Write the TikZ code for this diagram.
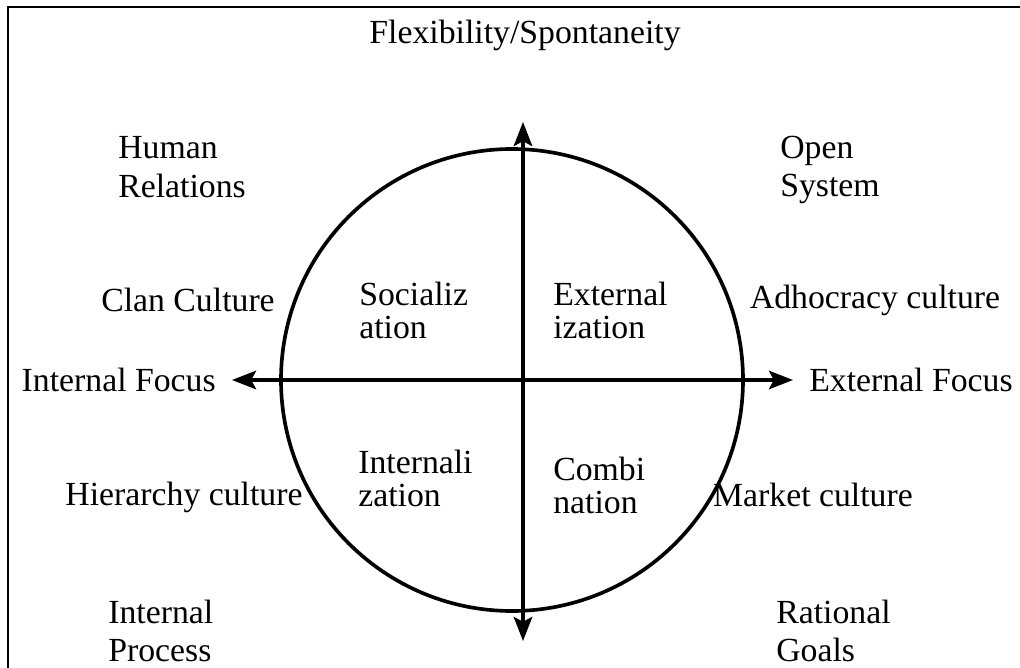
\documentclass[tikz,border=0pt]{standalone}
\usepackage{fontspec}
\setmainfont{Liberation Serif}
\usetikzlibrary{arrows.meta, calc, positioning}
\tikzstyle{label} = [inner sep=0pt, align=left, font=\fontsize{24}{27.5}\selectfont]
\tikzstyle{quad} = [inner sep=0pt, align=left, font=\fontsize{24}{23.5}\selectfont]
\tikzstyle{arrow} = [line width=2.6pt,->,>={Stealth[length=6mm, width=4.6mm, inset=1.2mm]}]

\begin{document}
\begin{tikzpicture}[x=0.025cm, y=-0.025cm]
	\useasboundingbox (0,0) rectangle (1020,668);
	\draw [line width=2pt] (8,668) -- (8,7) -- (1020,7);
	% circle and axes
	\node (Circle) [circle, draw, line width=2.6pt, minimum size=462*0.025cm, inner sep=0pt] at (512,380) {};
	\coordinate (Center) at (523,380);
	\coordinate (Top) at (523,122);
	\coordinate (Bottom) at (523,641);
	\coordinate (Left) at (232,380);
	\coordinate (Right) at (793,380);
	\draw [arrow] (Center) -- (Top);
	\draw [arrow] (Center) -- (Bottom);
	\draw [arrow] (Center) -- (Left);
	\draw [arrow] (Center) -- (Right);
	% outer labels
	\node (Flexibility) [label] at (525,35) {Flexibility/Spontaneity};
	\node (InternalFocus) [label, anchor=east, left = 16*0.025cm of Left] {Internal Focus};
	\node (ExternalFocus) [label, anchor=west, right = 16*0.025cm of Right] {External Focus};
	\node (HumanRelations) [label, anchor=west] at (118,167) {Human\\Relations};
	\node (OpenSystem) [label, anchor=west] at (780,170) {Open\\System};
	\node (InternalProcess) [label, anchor=west] at (108,631) {Internal\\Process};
	\node (RationalGoals) [label, anchor=west] at (776,631) {Rational\\Goals};
	\node (Clan) [label] at (188,300) {Clan Culture};
	\node (Adhocracy) [label] at (875,300) {Adhocracy culture};
	\node (Hierarchy) [label] at (184,497) {Hierarchy culture};
	\node (Market) [label] at (813,495) {Market culture};
	% quadrants
	\node (Socialization) [quad, anchor=west] at (359,310) {Socializ\\ation};
	\node (Externalization) [quad, anchor=west] at (553,310) {External\\ization};
	\node (Internalization) [quad, anchor=west] at (358,478) {Internali\\zation};
	\node (Combination) [quad, anchor=west] at (553,485) {Combi\\nation};
\end{tikzpicture}
\end{document}
